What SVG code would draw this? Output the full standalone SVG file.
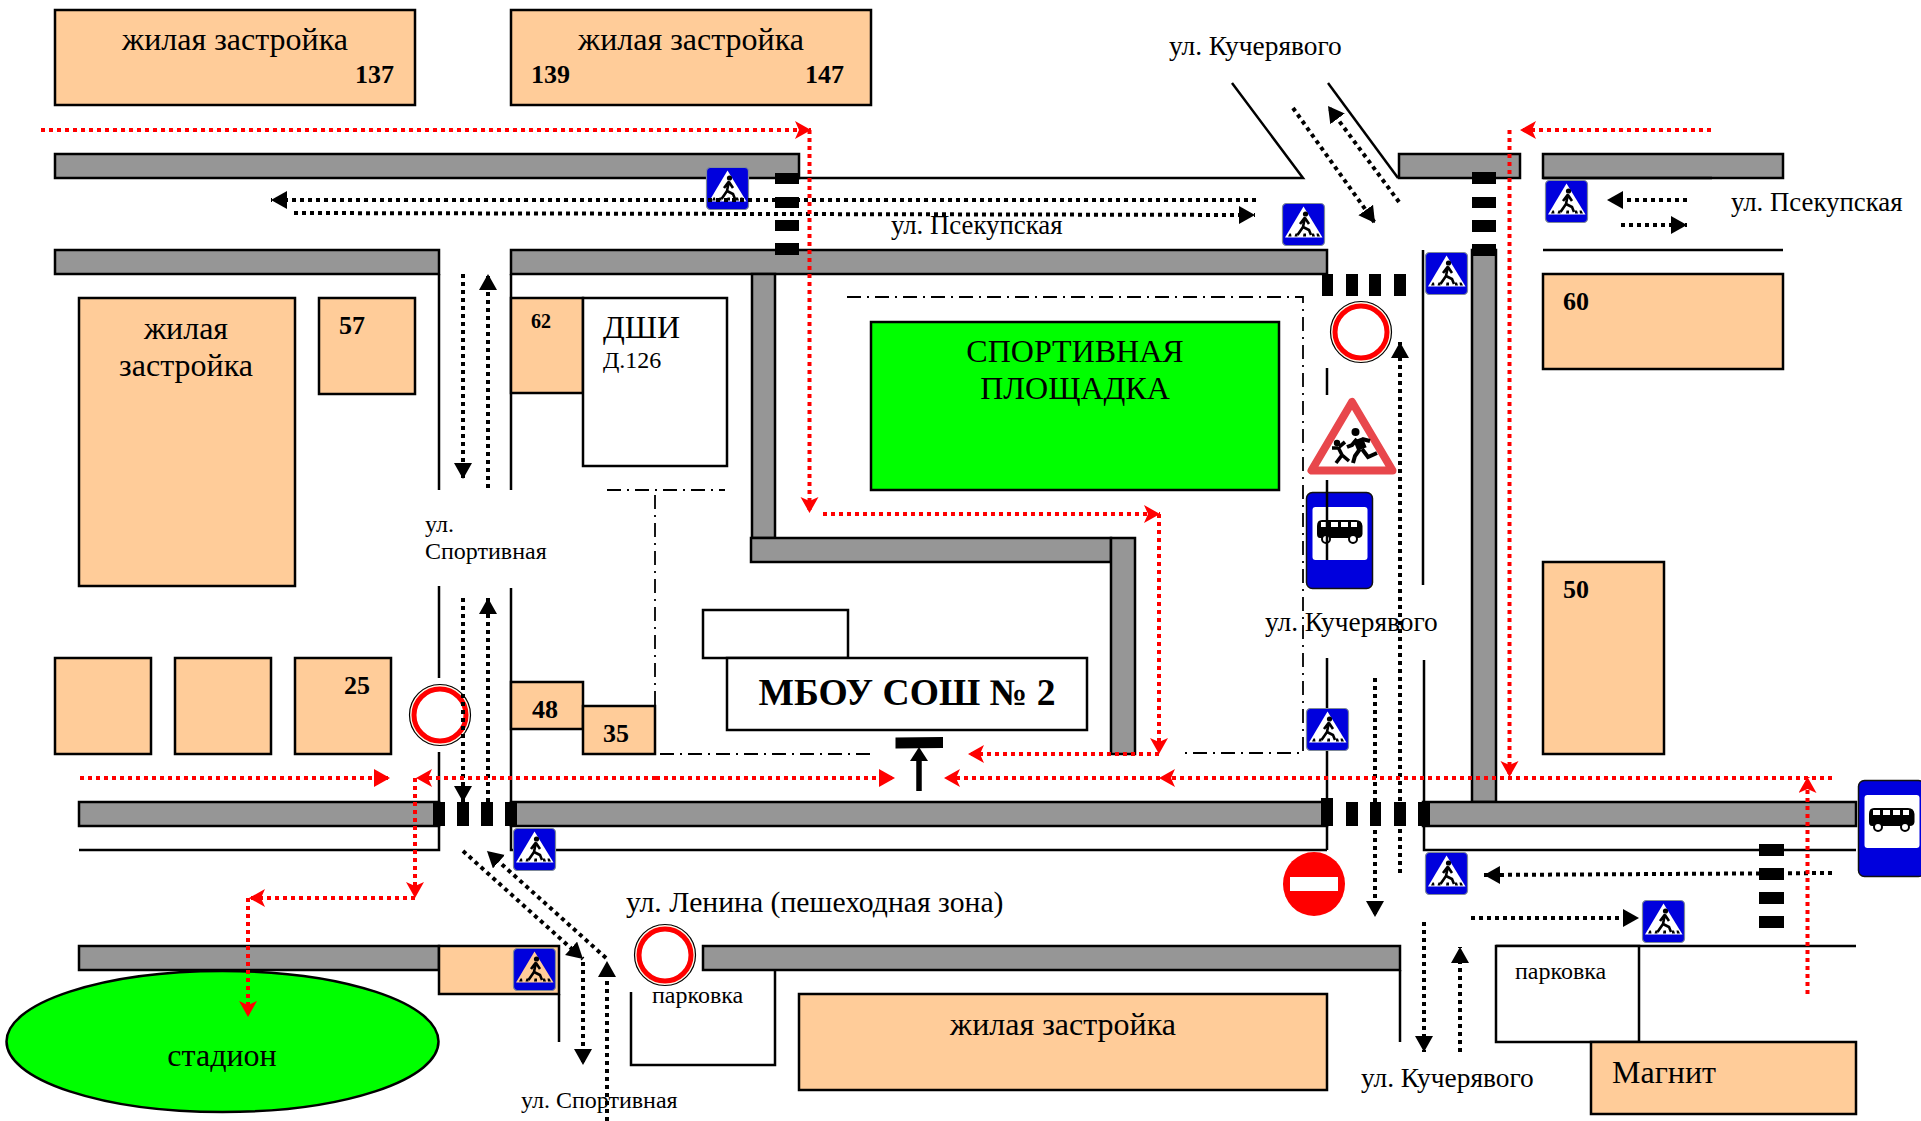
<svg xmlns="http://www.w3.org/2000/svg" xmlns:xlink="http://www.w3.org/1999/xlink" width="1921" height="1121" viewBox="0 0 1921 1121">
<style>
text{font-family:"Liberation Serif","Times New Roman",serif;fill:#000}
.t32j{font-size:32px}.t27{font-size:27.400px}.t26{font-size:26.800px}.t24{font-size:24px}.t32{font-size:32px}
.b{font-weight:bold;font-size:26px}
.m{text-anchor:middle}
.road{fill:#969696;stroke:#000;stroke-width:2.5}
.peach{fill:#ffcc99;stroke:#000;stroke-width:2.5}
.white{fill:#fff;stroke:#000;stroke-width:2.5}
.green{fill:#0f0;stroke:#000;stroke-width:2.5}
.ln{fill:none;stroke:#000;stroke-width:2.5}
.dd{fill:none;stroke:#000;stroke-width:1.8;stroke-dasharray:14 6 2 6}
.cw{fill:#000}
.bd{fill:none;stroke:#000;stroke-width:4;stroke-dasharray:4 4}
.bdm{marker-end:url(#ah)}
.rd{fill:none;stroke:#f00;stroke-width:4;stroke-dasharray:4 4}
.rdm{marker-end:url(#rh)}
.rds{marker-end:url(#rs)}
.pr{fill:#fff;stroke:#f00;stroke-width:5}
.pr0{fill:#fff8e8;stroke:#000;stroke-width:1.2}
</style>
<defs>
<marker id="ah" markerUnits="userSpaceOnUse" markerWidth="18" markerHeight="20" refX="16" refY="9" orient="auto"><path d="M0 0L16 9L0 18Z" fill="#000"/></marker>
<marker id="rh" markerUnits="userSpaceOnUse" markerWidth="18" markerHeight="20" refX="16" refY="9" orient="auto"><path d="M0 0L16 9L0 18L4 9Z" fill="#f00"/></marker>
<marker id="rs" markerUnits="userSpaceOnUse" markerWidth="18" markerHeight="20" refX="16" refY="9" orient="auto"><path d="M0 0L16 9L0 18Z" fill="#f00"/></marker>
<g id="ped-fig">
<circle cx="23.500" cy="11" r="2.600" fill="#000"/>
<path d="M23 14L21 24L15.500 32M21 24L27 27L29 32M23 15L27 21M22.500 15L18 21" fill="none" stroke="#000" stroke-width="2.600"/>
<path d="M6 33.500L9.500 33.500L9 30.500L7.500 30.500ZM12.500 33.500L15.500 33.500L15.500 30.500L13.500 30.500ZM21 33.500L24 33.500L24 30.500L21.500 30.500ZM30 33.500L33 33.500L32 30.500L30 30.500ZM35 33.500L38 33.500L36.500 30.500L34.500 30.500Z" fill="#000"/>
</g>
<g id="ped">
<rect x=".5" y=".5" width="42" height="42" rx="4" fill="#0000dd" stroke="#7f8a99" stroke-width="1.2"/>
<path d="M21.500 3.500L40.500 34.500H3Z" fill="#fff"/>
<use xlink:href="#ped-fig" href="#ped-fig"/>
</g>
<g id="ped2">
<rect x=".5" y=".5" width="42" height="42" rx="4" fill="#0000dd" stroke="#7f8a99" stroke-width="1.2"/>
<path d="M21.500 3.500L40.500 34.500H3Z" fill="#ffcc99"/>
<use xlink:href="#ped-fig" href="#ped-fig"/>
</g>
<g id="prohib">
<circle r="30.500" class="pr0"/>
<circle r="26" class="pr"/>
</g>
<g id="bus">
<rect x=".5" y=".5" width="66" height="96" rx="6" fill="#0000dd" stroke="#111" stroke-width="1.500"/>
<rect x="6.500" y="15" width="55" height="53" rx="3" fill="#fff"/>
<path d="M11 34Q11 28 16 28H50Q56 28 56.500 34V42Q56 46 52 46H14Q11 46 11 42Z" fill="#000"/>
<path d="M15 30H22V35H15ZM25 30H32V35H25ZM35 30H42V35H35ZM45 30H51V35H45Z" fill="#fff"/>
<circle cx="20" cy="47" r="4" fill="#fff" stroke="#000" stroke-width="2"/>
<circle cx="47" cy="47" r="4" fill="#fff" stroke="#000" stroke-width="2"/>
</g>
</defs>
<rect width="1921" height="1121" fill="#fff"/>

<g id="roads">
<rect class="road" x="55" y="154" width="744" height="24"/>
<rect class="road" x="55" y="250" width="384" height="24"/>
<rect class="road" x="511" y="250" width="816" height="24"/>
<rect class="road" x="752" y="274" width="23" height="264"/>
<rect class="road" x="751" y="538" width="360" height="24"/>
<rect class="road" x="1111" y="538" width="24" height="216"/>
<rect class="road" x="1399" y="154" width="121" height="24"/>
<rect class="road" x="1543" y="154" width="240" height="24"/>
<rect class="road" x="1472" y="250" width="24" height="552"/>
<rect class="road" x="79" y="802" width="360" height="24"/>
<rect class="road" x="511" y="802" width="816" height="24"/>
<rect class="road" x="1423" y="802" width="433" height="24"/>
<rect class="road" x="79" y="946" width="360" height="24"/>
<rect class="road" x="703" y="946" width="697" height="24"/>
</g>

<g id="street-lines">
<path class="ln" d="M439 274V490M439 586V678M439 752V850H79"/>
<path class="ln" d="M511 274V490M511 588V850H1327M1327 658V850"/>
<path class="ln" d="M1232 83L1303 178H799"/>
<path class="ln" d="M1328 83L1398 178"/>
<path class="ln" d="M1543 178H1712M1543 250H1783"/>
<path class="ln" d="M1327 368V395"/>
<path class="ln" d="M1423 250V585M1424 660V850H1856"/>
<path class="ln" d="M1496 946H1856M1400 970V1042M559 994V1042"/>
<path class="ln" d="M631 992V1065H775V970"/>
<path class="dd" d="M847 297H1303V753H1182M870 754H656M655 705V490M607 490H725"/>
</g>

<g id="b-137"><rect class="peach" x="55" y="10" width="360" height="95"/><text class="t32j m" x="235" y="50">жилая застройка</text><text class="b" x="355" y="83">137</text></g>
<g id="b-139"><rect class="peach" x="511" y="10" width="360" height="95"/><text class="t32j m" x="691" y="50">жилая застройка</text><text class="b" x="531" y="83">139</text><text class="b" x="805" y="83">147</text></g>
<g id="b-left"><rect class="peach" x="79" y="298" width="216" height="288"/><text class="t32j m" x="186" y="339">жилая</text><text class="t32j m" x="186" y="376">застройка</text></g>
<g id="b-57"><rect class="peach" x="319" y="298" width="96" height="96"/><text class="b" x="339" y="334">57</text></g>
<g id="b-62"><rect class="peach" x="511" y="298" width="72" height="95"/><text class="b" style="font-size:20px" x="531" y="328">62</text></g>
<g id="b-dshi"><rect class="white" x="583" y="298" width="144" height="168"/><text class="t32" x="603" y="338">ДШИ</text><text class="t24" x="603" y="368">Д.126</text></g>
<g id="b-sport"><rect class="green" x="871" y="322" width="408" height="168"/><text class="t32 m" x="1075" y="362">СПОРТИВНАЯ</text><text class="t32 m" x="1075" y="399">ПЛОЩАДКА</text></g>
<g id="b-a"><rect class="peach" x="55" y="658" width="96" height="96"/></g>
<g id="b-b"><rect class="peach" x="175" y="658" width="96" height="96"/></g>
<g id="b-25"><rect class="peach" x="295" y="658" width="96" height="96"/><text class="b" x="344" y="694">25</text></g>
<g id="b-48"><rect class="peach" x="511" y="682" width="72" height="47"/><text class="b" x="532" y="718">48</text></g>
<g id="b-35"><rect class="peach" x="583" y="706" width="72" height="48"/><text class="b" x="603" y="742">35</text></g>
<g id="b-annex"><rect class="white" x="703" y="610" width="145" height="48"/></g>
<g id="b-school"><rect class="white" x="727" y="658" width="360" height="72"/><text class="m" style="font-weight:bold;font-size:37.600px" x="907" y="705">МБОУ СОШ № 2</text></g>
<g id="b-60"><rect class="peach" x="1543" y="274" width="240" height="95"/><text class="b" x="1563" y="310">60</text></g>
<g id="b-50"><rect class="peach" x="1543" y="562" width="121" height="192"/><text class="b" x="1563" y="598">50</text></g>
<g id="b-south"><rect class="peach" x="799" y="994" width="528" height="96"/><text class="t32j m" x="1063" y="1035">жилая застройка</text></g>
<g id="b-park1"><rect class="peach" x="439" y="946" width="120" height="48"/></g>
<g id="b-park2"><rect class="white" x="1496" y="946" width="143" height="96"/><text class="t24" x="1515" y="979">парковка</text></g>
<g id="b-magnit"><rect class="peach" x="1591" y="1042" width="265" height="72"/><text class="t32" x="1612" y="1083">Магнит</text></g>
<g id="b-stadium"><ellipse class="green" cx="222.500" cy="1041.500" rx="216" ry="70.500"/><text class="t32j m" x="222" y="1066">стадион</text></g>

<g id="crossings" class="cw">
<rect x="775" y="173" width="24" height="11"/><rect x="775" y="197" width="24" height="11"/><rect x="775" y="220" width="24" height="11"/><rect x="775" y="243" width="24" height="12"/>
<rect x="1472" y="172" width="24" height="12"/><rect x="1472" y="197" width="24" height="11"/><rect x="1472" y="220" width="24" height="12"/><rect x="1472" y="244" width="24" height="12"/>
<rect x="1322" y="274" width="11" height="22"/><rect x="1346" y="274" width="12" height="22"/><rect x="1369" y="274" width="12" height="22"/><rect x="1394" y="274" width="12" height="22"/>
<rect x="433" y="802" width="12" height="24"/><rect x="457" y="802" width="12" height="24"/><rect x="481" y="802" width="12" height="24"/><rect x="505" y="802" width="12" height="24"/>
<rect x="1321" y="798" width="12" height="28"/><rect x="1346" y="802" width="12" height="24"/><rect x="1370" y="802" width="11" height="24"/><rect x="1394" y="802" width="12" height="24"/><rect x="1418" y="802" width="12" height="24"/>
<rect x="1759" y="844" width="25" height="12"/><rect x="1759" y="868" width="25" height="12"/><rect x="1759" y="892" width="25" height="12"/><rect x="1759" y="916" width="25" height="12"/>
</g>

<g id="sign-bus1"><use xlink:href="#bus" href="#bus" transform="translate(1306 492)"/></g>
<g id="sign-bus2"><use xlink:href="#bus" href="#bus" transform="translate(1858 780)"/></g>
<path class="ln" d="M1327 480V560"/>
<g id="sign-children">
<rect x="1305" y="395" width="94" height="84" fill="#fff"/>
<path d="M1352 402L1311.500 470.500H1392.500Z" fill="#fff" stroke="#e8474c" stroke-width="8" stroke-linejoin="round"/>
<circle cx="1355.500" cy="432" r="4" fill="#000"/><circle cx="1337" cy="443" r="3.200" fill="#000"/>
<path d="M1358 439L1362 449" fill="none" stroke="#000" stroke-width="10"/>
<path d="M1362 449L1368 457L1377 453M1360 449L1355 456L1353 463M1357 439L1352 445L1347 447M1362 439L1370 441" fill="none" stroke="#000" stroke-width="4"/>
<path d="M1338 447L1342 455L1336 463M1342 455L1349 461M1338 448L1332 448M1339 447L1345 442" fill="none" stroke="#000" stroke-width="3.600"/>
</g>
<g id="sign-proh1"><use xlink:href="#prohib" href="#prohib" transform="translate(1361 332)"/></g>
<g id="sign-proh2"><use xlink:href="#prohib" href="#prohib" transform="translate(440 715)"/></g>
<g id="sign-proh3"><use xlink:href="#prohib" href="#prohib" transform="translate(665 955)"/></g>
<g id="sign-noentry"><ellipse cx="1314" cy="884" rx="31" ry="32" fill="#f00"/><rect x="1290" y="877" width="48" height="14" fill="#fff"/></g>
<g id="signs-ped">
<use xlink:href="#ped" href="#ped" x="706" y="167"/>
<use xlink:href="#ped" href="#ped" x="1282" y="203"/>
<use xlink:href="#ped" href="#ped" x="1545" y="180"/>
<use xlink:href="#ped" href="#ped" x="1425" y="252"/>
<use xlink:href="#ped" href="#ped" x="513" y="828"/>
<use xlink:href="#ped2" href="#ped2" x="513" y="948"/>
<use xlink:href="#ped" href="#ped" x="1306" y="708"/>
<use xlink:href="#ped" href="#ped" x="1425" y="852"/>
<use xlink:href="#ped" href="#ped" x="1642" y="900"/>
</g>

<g id="labels">
<text class="t27" x="1169" y="55">ул. Кучерявого</text>
<text class="t26" x="891" y="234">ул. Псекупская</text>
<text class="t26" x="1731" y="211">ул. Псекупская</text>
<text class="t24" x="425" y="532">ул.</text>
<text class="t24" x="425" y="559">Спортивная</text>
<text class="t27" x="1265" y="631">ул. Кучерявого</text>
<text x="626" y="912" style="font-size:29.700px">ул. Ленина (пешеходная зона)</text>
<text class="t24" x="652" y="1003">парковка</text>
<text class="t24" x="521" y="1108">ул. Спортивная</text>
<text class="t27" x="1361" y="1087">ул. Кучерявого</text>
</g>

<g id="connectors">
<path class="bd bdm" d="M1256 200H271"/>
<path class="bd bdm" d="M294 213L1255 215"/>
<path class="bd bdm" d="M463 274V479"/>
<path class="bd bdm" d="M488 488V274"/>
<path class="bd bdm" d="M463 598V802"/>
<path class="bd bdm" d="M488 802V598"/>
<path class="bd bdm" d="M463 851L583 959"/>
<path class="bd bdm" d="M583 962V1065"/>
<path class="bd bdm" d="M606 958L487 851"/>
<path class="bd bdm" d="M607 1121V961"/>
<path class="bd bdm" d="M1293 108L1375 223"/>
<path class="bd bdm" d="M1399 202L1328 106"/>
<path class="bd bdm" d="M1687 200H1607"/>
<path class="bd bdm" d="M1621 225H1687"/>
<path class="bd bdm" d="M1400 873V342"/>
<path class="bd bdm" d="M1375 678V917"/>
<path class="bd bdm" d="M1424 922V1052"/>
<path class="bd bdm" d="M1460 1052V947"/>
<path class="bd bdm" d="M1832 873L1484 875"/>
<path class="bd bdm" d="M1471 918H1639"/>
<path class="rd rdm" d="M41 130H811"/>
<path class="rd rdm" d="M809.500 130V513"/>
<path class="rd rdm" d="M823 514H1160"/>
<path class="rd rdm" d="M1159 514V754"/>
<path class="rd rdm" d="M1159 754H968"/>
<path class="rd rds" d="M80 778H390"/>
<path class="rd rdm" d="M656 778H416"/>
<path class="rd rds" d="M656 778H895"/>
<path class="rd rdm" d="M1832 778H944"/>
<path class="rdm" style="fill:none;stroke:none" d="M1200 778H1159"/>
<path class="rd rdm" d="M415 778V898"/>
<path class="rd rdm" d="M415 898H249"/>
<path class="rd rdm" d="M248 898V1017"/>
<path class="rd rdm" d="M1711 130H1520"/>
<path class="rd rdm" d="M1509.500 130V777"/>
<path class="rd rdm" d="M1807.500 994V777"/>
<path d="M919 791V761" stroke="#000" stroke-width="5.500" fill="none"/>
<path d="M919 747L928 761H910Z" fill="#000"/>
<path d="M895.500 737.500L943 737V748L895.500 748.500Z" fill="#000"/>
</g>
</svg>
